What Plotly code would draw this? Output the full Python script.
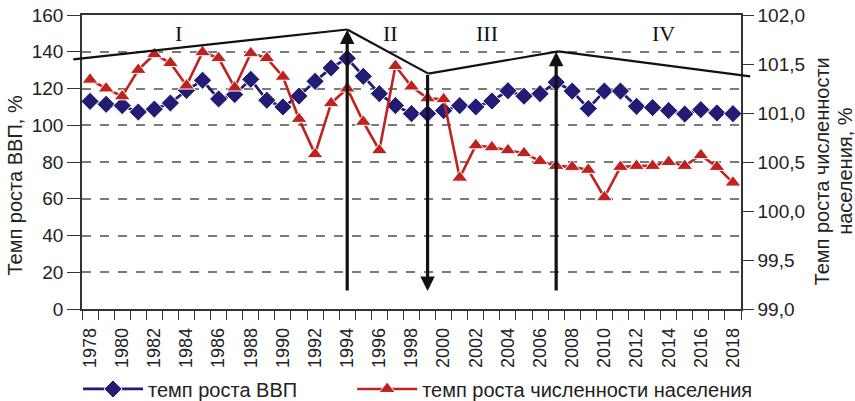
import plotly.graph_objects as go

years = list(range(1978, 2019))
gdp = [113.0, 111.4, 110.7, 107.2, 108.8, 112.1, 119.0, 124.5, 114.3, 116.7,
       125.0, 113.6, 110.0, 115.9, 123.9, 131.2, 136.4, 126.6, 117.2, 110.7,
       106.3, 106.3, 108.0, 110.7, 110.0, 113.2, 118.8, 115.8, 117.2, 123.4,
       118.6, 109.1, 118.6, 118.6, 110.3, 109.6, 108.0, 106.1, 108.5, 106.7, 106.3]
pop = [101.34, 101.25, 101.17, 101.44, 101.60, 101.51, 101.28, 101.62, 101.56, 101.26,
       101.61, 101.56, 101.37, 100.94, 100.58, 101.10, 101.25, 100.91, 100.62, 101.48,
       101.27, 101.15, 101.14, 100.34, 100.67, 100.65, 100.62, 100.59, 100.51, 100.46,
       100.45, 100.42, 100.14, 100.45, 100.46, 100.46, 100.50, 100.46, 100.57, 100.45, 100.29]

trend_x = [1976.96, 1994.0, 1999.05, 2007.14, 2019.07]
trend_y = [135.9, 152.1, 128.1, 140.2, 126.6]

arrows = [  # (x, tail_y, head_y)
    (1994, 9.3, 152.0),
    (1999, 128.1, 9.8),
    (2007, 9.3, 140.0),
]
period_labels = ["I", "II", "III", "IV"]
period_x = [1983.5, 1996.7, 2002.7, 2013.7]
period_y = 150

label_x = [y for y in years if y % 2 == 0]

X_RANGE = [1977.5, 2018.5]
Y_RANGE = [0, 160]

BLUE = "#231c74"
RED = "#c0231f"
FONT = "Liberation Sans, Arial, sans-serif"

fig = go.Figure()
fig.add_trace(go.Scatter(
    x=years, y=gdp, name="темп роста ВВП" + "\u00a0" * 9, mode="lines+markers",
    line=dict(color=BLUE, width=2.8),
    marker=dict(symbol="diamond", size=14, color=BLUE, line=dict(color="white", width=1)),
    yaxis="y"))
fig.add_trace(go.Scatter(
    x=years, y=pop, name="темп роста численности населения", mode="lines+markers",
    line=dict(color=RED, width=2.6),
    marker=dict(symbol="triangle-up", size=14, color=RED, line=dict(color="white", width=1)),
    yaxis="y2"))


def px(v):
    return (v - X_RANGE[0]) / (X_RANGE[1] - X_RANGE[0])


def py(v):
    return (v - Y_RANGE[0]) / (Y_RANGE[1] - Y_RANGE[0])


shapes = []
for i in range(len(trend_x) - 1):
    shapes.append(dict(type="line", xref="paper", yref="paper",
                       x0=px(trend_x[i]), y0=py(trend_y[i]),
                       x1=px(trend_x[i + 1]), y1=py(trend_y[i + 1]),
                       line=dict(color="#111111", width=2.2), layer="above"))

annotations = []
for ax_, tail, head in arrows:
    annotations.append(dict(x=ax_, y=head, ax=ax_, ay=tail, xref="x", yref="y",
                            axref="x", ayref="y", text="", showarrow=True,
                            arrowhead=2, arrowsize=0.9, arrowwidth=3.2, arrowcolor="#111111",
                            standoff=0, startstandoff=0))
for lab, lx in zip(period_labels, period_x):
    annotations.append(dict(x=lx, y=period_y, xref="x", yref="y", text=lab, showarrow=False,
                            font=dict(family="Liberation Serif, Times New Roman, serif",
                                      size=22, color="#111111")))
# axis titles
annotations.append(dict(x=-0.1017, y=0.42, xref="paper", yref="paper", text="Темп роста ВВП, %",
                        textangle=-90, showarrow=False, xanchor="center", yanchor="middle",
                        font=dict(size=20)))
annotations.append(dict(x=1.1229, y=0.468, xref="paper", yref="paper",
                        text="Темп роста численности", textangle=-90, showarrow=False,
                        xanchor="center", yanchor="middle", font=dict(size=20)))
annotations.append(dict(x=1.1578, y=0.47, xref="paper", yref="paper",
                        text="населения, %", textangle=-90, showarrow=False,
                        xanchor="center", yanchor="middle", font=dict(size=20)))

fig.update_layout(
    width=855, height=401,
    margin=dict(l=82, r=114, t=15, b=92, autoexpand=False),
    paper_bgcolor="white", plot_bgcolor="white",
    font=dict(family=FONT, size=19, color="#222222"),
    separators=", ",
    showlegend=True,
    legend=dict(orientation="h", x=-0.006, y=-0.272, xanchor="left", yanchor="middle",
                font=dict(size=20), itemwidth=60, bgcolor="rgba(0,0,0,0)"),
    shapes=shapes,
    annotations=annotations,
    xaxis=dict(range=X_RANGE, tickvals=label_x, ticktext=[str(v) for v in label_x],
               tickangle=-90, ticks="", showgrid=False, zeroline=False, automargin=False,
               showline=True, linecolor="#333333", linewidth=1.5, mirror=True,
               tickfont=dict(size=18), ticklabelstandoff=10,
               minor=dict(tickvals=[y - 0.5 for y in years] + [2018.5], ticks="outside",
                          ticklen=9, tickcolor="#333333", tickwidth=1.3, showgrid=False)),
    yaxis=dict(range=Y_RANGE, dtick=20, ticks="outside", ticklen=13, tickcolor="#333333",
               tickwidth=1.3, showline=True, linecolor="#333333", linewidth=1.5,
               showgrid=True, gridcolor="#7a7a7a", griddash="dash", gridwidth=1.5,
               zeroline=False, tickfont=dict(size=19), automargin=False),
    yaxis2=dict(range=[99, 102], dtick=0.5, tickformat=".1f", overlaying="y", side="right",
                ticks="outside", ticklen=11, tickcolor="#333333", tickwidth=1.3,
                showline=True, linecolor="#333333", linewidth=1.5, showgrid=False,
                zeroline=False, tickfont=dict(size=19), automargin=False),
)

fig.write_html("out.html", config={"displayModeBar": False},
               post_script="document.body.style.margin='0';")
